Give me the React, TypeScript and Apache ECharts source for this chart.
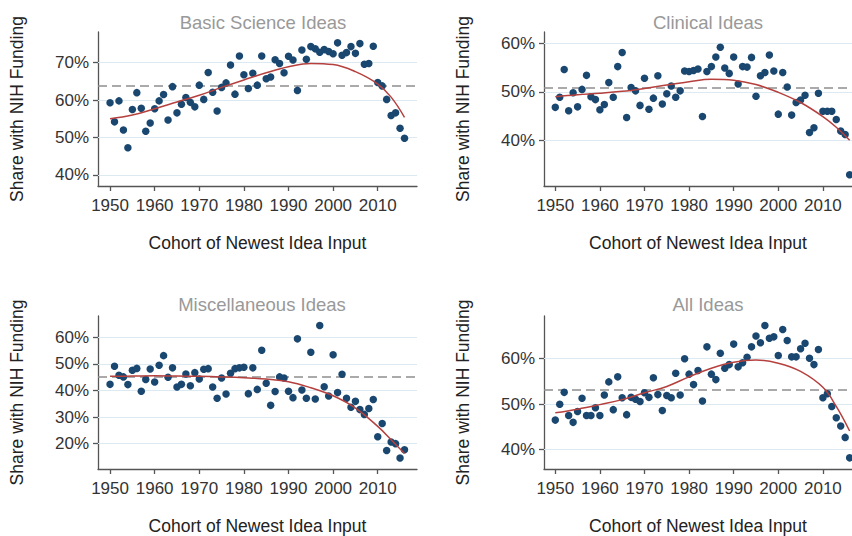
import React, { useEffect, useRef } from "react";
import * as echarts from "echarts";

const years = [
  1950, 1951, 1952, 1953, 1954, 1955, 1956, 1957, 1958, 1959,
  1960, 1961, 1962, 1963, 1964, 1965, 1966, 1967, 1968, 1969,
  1970, 1971, 1972, 1973, 1974, 1975, 1976, 1977, 1978, 1979,
  1980, 1981, 1982, 1983, 1984, 1985, 1986, 1987, 1988, 1989,
  1990, 1991, 1992, 1993, 1994, 1995, 1996, 1997, 1998, 1999,
  2000, 2001, 2002, 2003, 2004, 2005, 2006, 2007, 2008, 2009,
  2010, 2011, 2012, 2013, 2014, 2015, 2016,
];

const basicScience = [
  59.3, 54.2, 59.8, 52.0, 47.3, 57.5, 62.0, 57.8, 51.7, 53.9,
  57.7, 59.8, 61.5, 54.7, 63.6, 56.6, 58.9, 60.7, 59.4, 58.2,
  64.0, 60.2, 67.4, 62.1, 57.1, 63.4, 64.6, 69.4, 61.6, 71.8,
  66.8, 63.1, 67.2, 64.0, 71.8, 65.7, 66.2, 70.8, 69.8, 67.3,
  71.7, 70.7, 62.6, 73.4, 70.9, 74.3, 73.7, 72.8, 73.5, 73.0,
  72.4, 75.3, 72.0, 72.7, 74.3, 72.5, 75.1, 69.6, 69.8, 74.4,
  64.7, 63.8, 60.2, 55.9, 56.6, 52.5, 49.8,
];

const clinical = [
  46.8, 48.9, 54.6, 46.1, 49.8, 46.9, 50.5, 53.4, 49.0, 48.4,
  46.3, 47.4, 51.9, 48.9, 55.2, 58.1, 44.7, 50.9, 50.2, 47.2,
  52.8, 46.4, 48.7, 53.3, 47.5, 49.6, 51.2, 48.9, 50.2, 54.3,
  54.2, 54.4, 54.7, 44.9, 54.2, 55.2, 57.2, 59.2, 54.9, 53.8,
  57.2, 51.6, 55.2, 55.1, 57.1, 49.1, 53.3, 54.0, 57.6, 54.3,
  45.4, 54.0, 51.0, 45.2, 47.8, 48.3, 49.3, 41.6, 42.6, 49.7,
  46.0, 46.0, 46.0, 44.3, 41.9, 41.2, 32.9,
];

const miscellaneous = [
  42.3, 49.1, 45.7, 45.1, 42.2, 47.6, 48.3, 39.7, 44.1, 48.1,
  43.2, 49.5, 53.1, 45.0, 48.5, 41.3, 42.3, 46.2, 41.8, 46.7,
  44.3, 48.0, 48.2, 41.3, 37.1, 44.7, 38.7, 46.5, 48.2, 48.5,
  48.7, 38.8, 48.5, 40.4, 55.1, 42.7, 34.4, 39.6, 45.1, 44.7,
  39.7, 37.3, 59.4, 40.2, 37.1, 54.4, 36.8, 64.4, 41.4, 37.9,
  53.4, 39.2, 46.1, 37.1, 33.7, 35.9, 32.8, 31.0, 33.2, 36.6,
  22.6, 27.6, 17.4, 20.6, 20.0, 14.6, 17.7,
];

const allIdeas = [
  46.5, 50.0, 52.6, 47.5, 46.0, 48.4, 51.3, 47.5, 47.5, 49.2,
  47.5, 52.0, 54.9, 48.8, 56.0, 51.4, 47.7, 51.5, 51.1, 50.6,
  52.5, 51.5, 55.8, 52.1, 48.6, 51.9, 51.4, 56.8, 52.0, 60.0,
  56.6, 54.3, 57.4, 50.7, 62.6, 56.6, 55.4, 61.2, 57.9, 58.7,
  63.2, 58.2, 59.1, 60.3, 62.6, 65.0, 63.5, 67.3, 64.5, 64.8,
  60.7, 66.4, 64.0, 60.4, 60.4, 62.2, 63.4, 60.1, 58.7, 62.0,
  51.4, 52.3, 49.5, 47.0, 45.2, 42.7, 38.2,
];

const fitYears = [1950, 1955, 1960, 1965, 1970, 1975, 1980, 1985, 1990, 1995, 2000, 2005, 2010, 2013, 2016];
const basicFit = [55.0, 56.0, 57.7, 59.5, 61.3, 63.4, 65.4, 67.3, 68.9, 69.8, 69.5, 67.6, 64.3, 60.8, 55.4];
const clinicalFit = [49.0, 49.4, 49.7, 50.1, 50.7, 51.4, 52.1, 52.6, 52.4, 51.5, 49.9, 47.8, 44.9, 42.7, 40.0];
const miscFit = [45.3, 45.4, 45.5, 45.4, 45.3, 45.1, 44.8, 44.3, 43.3, 41.0, 38.0, 33.4, 26.5, 21.5, 16.3];
const allFit = [48.1, 48.9, 49.9, 51.0, 52.5, 53.9, 56.0, 57.9, 59.2, 59.7, 59.0, 57.2, 53.7, 49.5, 44.1];

const meanLines = [63.85, 50.9, 45.2, 53.1];

const titles = ["Basic Science Ideas", "Clinical Ideas", "Miscellaneous Ideas", "All Ideas"];
const xTicks = [1950, 1960, 1970, 1980, 1990, 2000, 2010];
const yTicksBasic = [40, 50, 60, 70];
const yTicksClinical = [40, 50, 60];
const yTicksMisc = [20, 30, 40, 50, 60];
const yTicksAll = [40, 50, 60];
const yAxisName = "Share with NIH Funding";
const xAxisName = "Cohort of Newest Idea Input";

const FONT = "Liberation Sans, Arial, Helvetica, sans-serif";
const DOT = "#1a476f";
const FIT = "#b5403e";
const GRIDC = "#dce9f0";

export default function App() {
  const ref = useRef<HTMLDivElement>(null);

  useEffect(() => {
    if (!ref.current) return;
    const chart = echarts.init(ref.current, undefined, { renderer: "svg" });

    const panels = [
      { values: basicScience, fit: basicFit, yTicks: yTicksBasic, grid: { left: 98, top: 32, width: 319, height: 154 }, xr: [1947.3, 2018.8], yr: [37.06, 78.2], titleX: 258, titleY: 8 },
      { values: clinical, fit: clinicalFit, yTicks: yTicksClinical, grid: { left: 544, top: 32, width: 308, height: 154 }, xr: [1947.47, 2016.53], yr: [30.58, 62.34], titleX: 703, titleY: 8 },
      { values: miscellaneous, fit: miscFit, yTicks: yTicksMisc, grid: { left: 98, top: 316, width: 319, height: 153 }, xr: [1947.3, 2018.8], yr: [10.47, 68.0], titleX: 257, titleY: 290 },
      { values: allIdeas, fit: allFit, yTicks: yTicksAll, grid: { left: 544, top: 316, width: 308, height: 153 }, xr: [1947.47, 2016.53], yr: [35.75, 69.38], titleX: 703, titleY: 290 },
    ];

    const axisLineStyle = { color: "#555", width: 1.3 };
    const labelStyle = { fontFamily: FONT, fontSize: 17, color: "#333" };

    const option: any = {
      animation: false,
      backgroundColor: "#fff",
      title: panels.map((p, i) => ({
        text: titles[i],
        left: p.titleX,
        top: p.titleY,
        textAlign: "center",
        textStyle: { fontFamily: FONT, fontSize: 18.5, fontWeight: "normal", color: "#999" },
      })),
      grid: panels.map((p) => ({ ...p.grid, containLabel: false })),
      xAxis: panels.map((p, i) => ({
        type: "value",
        gridIndex: i,
        min: p.xr[0],
        max: p.xr[1],
        name: xAxisName,
        nameLocation: "middle",
        nameGap: 48,
        nameTextStyle: { fontFamily: FONT, fontSize: 17.5, color: "#222" },
        axisLine: { show: true, onZero: false, lineStyle: axisLineStyle },
        axisTick: { show: true, length: 5, lineStyle: axisLineStyle, customValues: xTicks },
        axisLabel: { ...labelStyle, margin: 11, customValues: xTicks, formatter: (v: number) => String(v) },
        splitLine: { show: false },
      })),
      yAxis: panels.map((p, i) => ({
        type: "value",
        gridIndex: i,
        min: p.yr[0],
        max: p.yr[1],
        name: yAxisName,
        nameLocation: "middle",
        nameGap: 72,
        nameRotate: 90,
        nameTextStyle: { fontFamily: FONT, fontSize: 17.5, color: "#222" },
        axisLine: { show: true, onZero: false, lineStyle: axisLineStyle },
        axisTick: { show: true, length: 5, lineStyle: axisLineStyle, customValues: p.yTicks },
        axisLabel: { ...labelStyle, margin: 9, customValues: p.yTicks, formatter: (v: number) => Math.round(v) + "%" },
        splitLine: { show: false },
      })),
      series: [] as any[],
    };

    panels.forEach((p, i) => {
      option.series.push({
        type: "line",
        xAxisIndex: i,
        yAxisIndex: i,
        data: [],
        z: 1,
        silent: true,
        markLine: {
          silent: true,
          z: 1,
          symbol: "none",
          label: { show: false },
          lineStyle: { color: GRIDC, width: 1, type: "solid" },
          data: p.yTicks.map((t) => ({ yAxis: t })),
        },
      });
      option.series.push({
        type: "line",
        xAxisIndex: i,
        yAxisIndex: i,
        data: [],
        z: 2,
        silent: true,
        markLine: {
          silent: true,
          z: 2,
          symbol: "none",
          label: { show: false },
          lineStyle: { color: "#8f8f8f", width: 1.5, type: [9, 5] },
          data: [{ yAxis: meanLines[i] }],
        },
      });
      option.series.push({
        type: "scatter",
        xAxisIndex: i,
        yAxisIndex: i,
        symbol: "circle",
        symbolSize: 7.5,
        itemStyle: { color: DOT, opacity: 1 },
        z: 3,
        data: years.map((y, k) => [y, p.values[k]]),
      });
      option.series.push({
        type: "line",
        xAxisIndex: i,
        yAxisIndex: i,
        smooth: 0.4,
        showSymbol: false,
        symbol: "none",
        lineStyle: { color: FIT, width: 1.5 },
        z: 4,
        data: fitYears.map((y, k) => [y, p.fit[k]]),
      });
    });

    chart.setOption(option);
    return () => chart.dispose();
  }, []);

  return (
    <div
      ref={ref}
      style={{ position: "fixed", left: 0, top: 0, width: 852, height: 536, background: "#fff" }}
    />
  );
}
